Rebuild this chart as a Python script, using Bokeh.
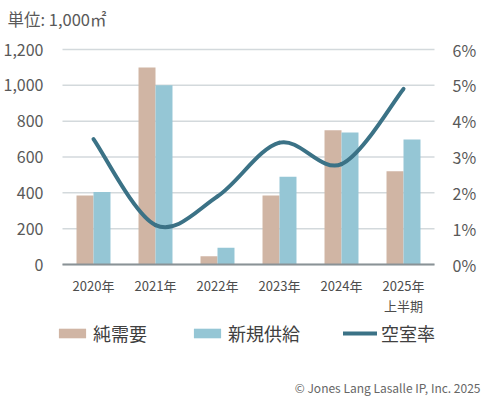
from bokeh.plotting import figure
from bokeh.models import (FactorRange, Range1d, Legend, LegendItem, ColumnDataSource)
from bokeh.transform import dodge
from bokeh.core.properties import value
from bokeh.embed import file_html
from bokeh.resources import INLINE

# ---- data ----
years = ["2020年", "2021年", "2022年", "2023年", "2024年", "2025年"]
net_demand = [385, 1100, 46, 385, 750, 520]      # 純需要 (1,000㎡)
new_supply = [405, 1000, 93, 490, 737, 697]      # 新規供給 (1,000㎡)
vacancy = [3.5, 1.1, 1.9, 3.4, 2.8, 4.9]         # 空室率 (%)
left_ticks = [0, 200, 400, 600, 800, 1000, 1200]
left_tick_labels = ["0", "200", "400", "600", "800", "1,000", "1,200"]
right_ticks = [0, 1, 2, 3, 4, 5, 6]
right_tick_labels = ["0%", "1%", "2%", "3%", "4%", "5%", "6%"]
sub_label = "上半期"
unit_label = "単位: 1,000㎡"
credit = "© Jones Lang Lasalle IP, Inc. 2025"

FONT = value("Noto Sans CJK JP")
TXT = "#595959"
TAN = "#D0B5A4"
BLUE = "#95C6D5"
TEAL = "#3B7286"

# layout mapping: plot area 62..434 px wide, 49..264 px tall on a 500x396 canvas
W, H = 500, 396
Y_TOP, Y_BOT = 49, 264
PX_PER_UNIT = (Y_BOT - Y_TOP) / 1200.0
def ypx(px):
    """data y (left scale) that lands at canvas pixel row px"""
    return (Y_BOT - px) / PX_PER_UNIT

y_lo, y_hi = ypx(H), ypx(0)
p = figure(width=W, height=H,
           x_range=FactorRange(*years, range_padding=1, range_padding_units="absolute"),
           y_range=Range1d(y_lo, y_hi), output_backend="svg", toolbar_location=None,
           x_axis_location=None, y_axis_location=None, min_border=0,
           min_border_right=4)
p.extra_y_ranges = {"pct": Range1d(y_lo * 6 / 1200, y_hi * 6 / 1200)}
p.outline_line_color = None
p.xgrid.visible = False
p.ygrid.visible = False

# gridlines (left scale ticks)
p.segment(x0=[0] * len(left_ticks), x1=[6] * len(left_ticks), y0=left_ticks,
          y1=left_ticks, line_color="#D3D9DC", line_width=1.5)

# bars
src = ColumnDataSource(dict(years=years, nd=net_demand, ns=new_supply))
bw = 0.274
r1 = p.vbar(x=dodge("years", -bw / 2, range=p.x_range), top="nd", width=bw,
            source=src, fill_color=TAN, line_color=None)
r2 = p.vbar(x=dodge("years", bw / 2, range=p.x_range), top="ns", width=bw,
            source=src, fill_color=BLUE, line_color=None)

# baseline
p.segment(x0=[0], x1=[6], y0=[left_ticks[0]], y1=[left_ticks[0]],
          line_color="#8A9296", line_width=2)

# smooth (Excel-like) curve through vacancy points using cubic Bezier segments
n = len(vacancy)
xs = [i + 0.5 for i in range(n)]
bz = dict(x0=[], y0=[], x1=[], y1=[], cx0=[], cy0=[], cx1=[], cy1=[])
for i in range(n - 1):
    a = max(i - 1, 0)
    b = min(i + 2, n - 1)
    bz["x0"].append(xs[i]); bz["y0"].append(vacancy[i])
    bz["x1"].append(xs[i + 1]); bz["y1"].append(vacancy[i + 1])
    bz["cx0"].append(xs[i] + (xs[i + 1] - xs[a]) / 6)
    bz["cy0"].append(vacancy[i] + (vacancy[i + 1] - vacancy[a]) / 6)
    bz["cx1"].append(xs[i + 1] - (xs[b] - xs[i]) / 6)
    bz["cy1"].append(vacancy[i + 1] - (vacancy[b] - vacancy[i]) / 6)
r3 = p.bezier(x0="x0", y0="y0", x1="x1", y1="y1", cx0="cx0", cy0="cy0",
              cx1="cx1", cy1="cy1", source=ColumnDataSource(bz),
              y_range_name="pct", line_color=TEAL, line_width=4, line_cap="round")

# left tick labels
p.text(x=[-19 / 62] * len(left_ticks), y=left_ticks, text=left_tick_labels,
       text_align="right", text_baseline="middle", text_font=FONT,
       text_font_size="16px", text_color=TXT)
# right tick labels
p.text(x=[6 + 18 / 62] * len(right_ticks), y=right_ticks, text=right_tick_labels,
       y_range_name="pct", text_align="left", text_baseline="middle",
       text_font=FONT, text_font_size="16px", text_color=TXT)
# category labels
p.text(x=years, y=[ypx(285)] * len(years), text=years, text_align="center",
       text_baseline="middle", text_font=FONT, text_font_size="13px",
       text_color="#4D4D4D")
p.text(x=[years[-1]], y=[ypx(305)], text=[sub_label], text_align="center",
       text_baseline="middle", text_font=FONT, text_font_size="13px",
       text_color="#4D4D4D")
# unit title
p.text(x=[-55 / 62], y=[ypx(18)], text=[unit_label], text_align="left",
       text_baseline="middle", text_font=FONT, text_font_size="16.5px",
       text_color=TXT)
# credit
p.text(x=[6 + 46 / 62], y=[ypx(387)], text=[credit], text_align="right",
       text_baseline="middle", text_font=FONT, text_font_size="12px",
       text_color="#666666")

legend = Legend(items=[LegendItem(label="純需要", renderers=[r1]),
                       LegendItem(label="新規供給", renderers=[r2]),
                       LegendItem(label="空室率", renderers=[r3])],
                orientation="horizontal", location=(55, H - 346), glyph_width=34,
                glyph_height=12, label_text_font="Noto Sans CJK JP",
                label_text_font_size="18px", label_text_color="#404040",
                spacing=43, padding=0, margin=0, label_standoff=4,
                border_line_alpha=0, background_fill_alpha=0)
p.add_layout(legend, "center")

open("out.html", "w").write(file_html(p, INLINE))
